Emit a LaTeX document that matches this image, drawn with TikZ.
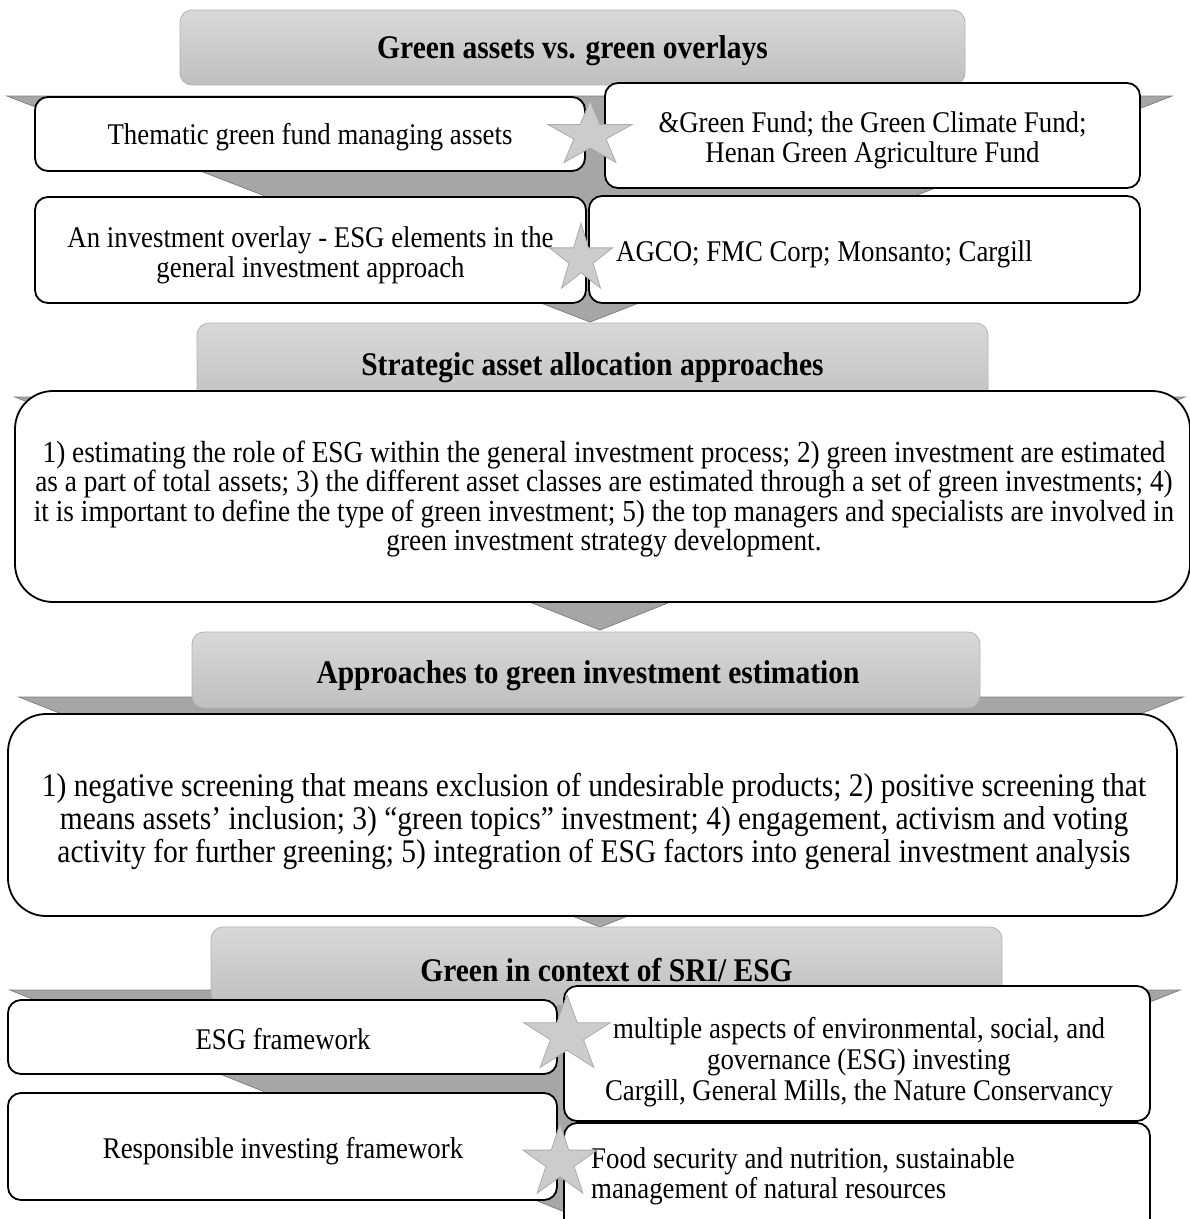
\documentclass[tikz,border=0pt]{standalone}
\usepackage{fontspec}
\setmainfont{Liberation Serif}
\usetikzlibrary{shapes.geometric}
\begin{document}
\begin{tikzpicture}[x=1pt,y=-1pt,
 wbox/.style={draw=black, line width=1.8pt, fill=white, rounded corners=13pt, inner sep=0pt},
 bigbox/.style={wbox, rounded corners=38pt},
 hbox/.style={draw=black!30, line width=0.8pt, rounded corners=12pt, top color=black!15, bottom color=black!25, inner sep=0pt},
 chev/.style={fill=black!35, draw=black!50, line width=0.8pt, line join=miter},
 gstar/.style={star, star points=5, star point ratio=2.618, fill=black!20, draw=black!33, line width=0.8pt, inner sep=0pt, transform shape},
 tall/.style={yscale=1.12, inner sep=0pt},
 htext/.style={tall, font=\fontsize{29.5}{30}\selectfont\bfseries},
 btext/.style={tall, font=\fontsize{26.8}{27}\selectfont, align=center},
 ltext/.style={tall, font=\fontsize{27.3}{26.2}\selectfont, align=center},
 mtext/.style={tall, font=\fontsize{29.5}{29.5}\selectfont, align=center},
]
\useasboundingbox (0,0) rectangle (1190,1219);
\clip (0,0) rectangle (1190,1219);

% ---------- Section 1 ----------
\path[chev] (7,96) -- (1172,96) -- (590,322) -- cycle;
\node[hbox, minimum width=785, minimum height=75] (h1) at (572.5,47.5) {};
\node[htext] (h1t) at (572.5,51) {Green assets vs. green overlays};
\node[wbox, minimum width=550, minimum height=74] (a) at (310,134) {};
\node[btext] (at) at (310,137.5) {Thematic green fund managing assets};
\node[wbox, minimum width=535, minimum height=105] (b) at (872.5,135.5) {};
\node[btext] (bt) at (872.5,140.5) {\&Green Fund; the Green Climate Fund;\\Henan Green Agriculture Fund};
\node[wbox, minimum width=551, minimum height=106] (c) at (310.5,250) {};
\node[btext] (ct) at (310.5,255) {An investment overlay - ESG elements in the\\general investment approach};
\node[wbox, minimum width=551, minimum height=107] (d) at (864.5,249.5) {};
\node[btext, anchor=west] (dt) at (616,254) {AGCO; FMC Corp; Monsanto; Cargill};
\begin{scope}[shift={(590,135)}, xscale=1.3]
 \node[gstar, minimum size=68pt] (s1) at (0,0) {};
\end{scope}
\begin{scope}[shift={(581,259)}, xscale=0.92]
 \node[gstar, minimum size=72pt] (s2) at (0,0) {};
\end{scope}

% ---------- Section 2 ----------
\path[chev] (15,397) -- (1185,397) -- (600,630) -- cycle;
\node[hbox, minimum width=791, minimum height=87] (h2) at (592.5,366.5) {};
\node[htext] (h2t) at (592.5,368) {Strategic asset allocation approaches};
\node[bigbox, minimum width=1175, minimum height=211] (e) at (602.5,496.5) {};
\node[ltext] (et) at (604,499) {1) estimating the role of ESG within the general investment process; 2) green investment are estimated\\as a part of total assets; 3) the different asset classes are estimated through a set of green investments; 4)\\it is important to define the type of green investment; 5) the top managers and specialists are involved in\\green investment strategy development.};

% ---------- Section 3 ----------
\path[chev] (19,697) -- (1183,697) -- (600,927) -- cycle;
\node[hbox, minimum width=788, minimum height=76] (h3) at (586,670) {};
\node[htext] (h3t) at (588,676) {Approaches to green investment estimation};
\node[bigbox, minimum width=1169, minimum height=202] (f) at (592.5,815) {};
\node[mtext] (ft) at (594,821) {1) negative screening that means exclusion of undesirable products; 2) positive screening that\\means assets’ inclusion; 3) “green topics” investment; 4) engagement, activism and voting\\activity for further greening; 5) integration of ESG factors into general investment analysis};

% ---------- Section 4 ----------
\path[chev] (10,990) -- (1180,990) -- (595,1224) -- cycle;
\node[hbox, minimum width=791, minimum height=78] (h4) at (606.5,966) {};
\node[htext] (h4t) at (606.5,970) {Green in context of SRI/ ESG};
\node[wbox, minimum width=549, minimum height=74] (g) at (282.5,1037) {};
\node[btext] (gt) at (283,1039) {ESG framework};
\node[wbox, minimum width=586, minimum height=135] (k) at (857,1053.5) {};
\node[btext, font=\fontsize{26.8}{27.7}\selectfont] (kt) at (859,1062) {multiple aspects of environmental, social, and\\governance (ESG) investing\\Cargill, General Mills, the Nature Conservancy};
\node[wbox, minimum width=549, minimum height=107] (m) at (282.5,1146.5) {};
\node[btext] (mt) at (283,1151.5) {Responsible investing framework};
\node[wbox, minimum width=586, minimum height=117] (n) at (857,1181.5) {};
\node[btext, align=left, anchor=west] (nt) at (591,1176) {Food security and nutrition, sustainable\\management of natural resources};
\begin{scope}[shift={(567,1035)}, xscale=1.14]
 \node[gstar, minimum size=80pt] (s3) at (0,0) {};
\end{scope}
\begin{scope}[shift={(560,1162)}, xscale=1.01]
 \node[gstar, minimum size=77pt] (s4) at (0,0) {};
\end{scope}
\end{tikzpicture}
\end{document}
